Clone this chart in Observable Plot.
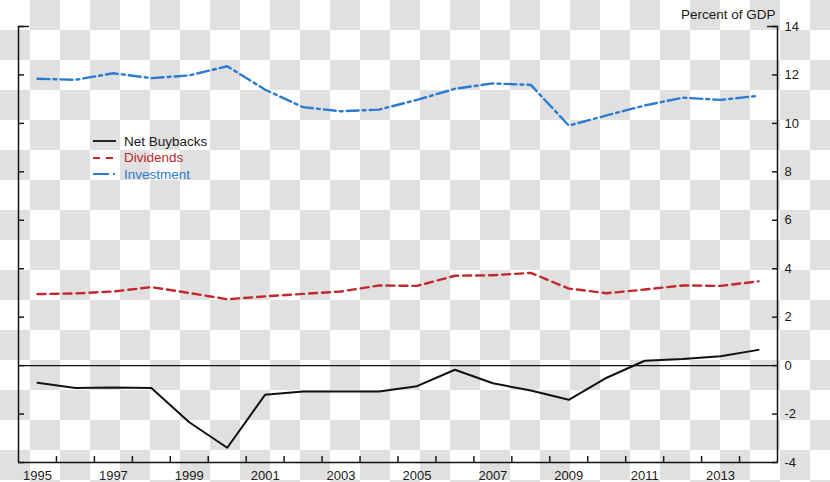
<!DOCTYPE html>
<html>
<head>
<meta charset="utf-8">
<script src="https://cdn.jsdelivr.net/npm/d3@7"></script>
<script src="https://cdn.jsdelivr.net/npm/@observablehq/plot@0.6"></script>
<style>
html, body { margin: 0; padding: 0; width: 830px; height: 482px; overflow: hidden; }
body {
  position: relative;
  font-family: "Liberation Sans", Arial, sans-serif;
  background: repeating-conic-gradient(#e0e0e0 0% 25%, #ffffff 0% 50%) 0 0 / 60px 60px;
}
#chart { position: absolute; left: 0; top: 0; }
#legend { position: absolute; left: 93px; top: 132.75px; font-size: 13.5px; }
.row { display: flex; align-items: center; height: 16.5px; white-space: nowrap; }
.row svg { width: 23px; height: 6px; margin-right: 8px; overflow: visible; }
</style>
</head>
<body>
<div id="chart"></div>
<div id="legend"></div>
<script>
// ---- data ----
const years = [1995, 1996, 1997, 1998, 1999, 2000, 2001, 2002, 2003, 2004,
               2005, 2006, 2007, 2008, 2009, 2010, 2011, 2012, 2013, 2014];
const netBuybacks = [-0.71, -0.92, -0.90, -0.92, -2.34, -3.39, -1.20, -1.07, -1.07, -1.07,
                     -0.85, -0.17, -0.73, -1.03, -1.41, -0.50, 0.20, 0.27, 0.39, 0.65];
const dividends = [2.95, 2.98, 3.06, 3.24, 3.00, 2.74, 2.86, 2.96, 3.06, 3.31,
                   3.29, 3.71, 3.73, 3.83, 3.18, 2.99, 3.14, 3.31, 3.29, 3.48];
const investment = [11.84, 11.80, 12.07, 11.87, 11.98, 12.36, 11.39, 10.67, 10.50, 10.57,
                    10.97, 11.43, 11.65, 11.59, 9.91, 10.33, 10.74, 11.06, 10.97, 11.14];
const seriesNames = ["Net Buybacks", "Dividends", "Investment"];
const yTicks = [-4, -2, 0, 2, 4, 6, 8, 10, 12, 14];
const xLabelYears = [1995, 1997, 1999, 2001, 2003, 2005, 2007, 2009, 2011, 2013];
const unitLabel = "Percent of GDP";

// ---- derived ----
const xDomain = [years[0] - 0.5, years[years.length - 1] + 0.5];
const yDomain = [yTicks[0], yTicks[yTicks.length - 1]];
const xTickMarks = years.slice(0, -1).map(y => y + 0.5);

const styles = {
  "Net Buybacks": {stroke: "#111111", strokeWidth: 2, dash: null, legendDash: null},
  "Dividends": {stroke: "#c1272d", strokeWidth: 2.4, dash: "8,5", legendDash: "7,6"},
  "Investment": {stroke: "#2b7bd1", strokeWidth: 2.4, dash: "12,4,3,4", legendDash: "16,4,2,4"}
};
const values = {"Net Buybacks": netBuybacks, "Dividends": dividends, "Investment": investment};

const blank = () => "";
const plain = d => String(d);

const chart = Plot.plot({
  width: 830,
  height: 482,
  marginLeft: 18,
  marginRight: 53,
  marginTop: 26,
  marginBottom: 20,
  style: {background: "transparent", fontFamily: "Liberation Sans, Arial, sans-serif", fontSize: "13px", color: "#1a1a1a", overflow: "visible"},
  x: {type: "linear", domain: xDomain},
  y: {type: "linear", domain: yDomain},
  marks: [
    Plot.ruleY([0], {stroke: "#111", strokeWidth: 1.3}),
    ...seriesNames.map(name => Plot.line(years, {
      x: years,
      y: values[name],
      stroke: styles[name].stroke,
      strokeWidth: styles[name].strokeWidth,
      strokeDasharray: styles[name].dash,
      curve: "linear"
    })),
    Plot.ruleX(xDomain, {stroke: "#111", strokeWidth: 1.5}),
    Plot.ruleY([yDomain[0]], {stroke: "#111", strokeWidth: 1.5}),
    Plot.axisY(yTicks, {anchor: "right", tickSize: -6, tickPadding: 13, tickFormat: plain, label: null, strokeWidth: 1.5}),
    Plot.axisY(yTicks, {anchor: "left", tickSize: -6, tickFormat: blank, label: null, strokeWidth: 1.5}),
    Plot.axisY([yDomain[1]], {anchor: "left", tickSize: -11, tickFormat: blank, label: null, strokeWidth: 1.5}),
    Plot.axisY([yDomain[1]], {anchor: "right", tickSize: -11, tickFormat: blank, label: null, strokeWidth: 1.5}),
    Plot.axisX(xTickMarks, {anchor: "bottom", tickSize: -6, tickFormat: blank, label: null, strokeWidth: 1.5}),
    Plot.axisX(xLabelYears, {anchor: "bottom", tickSize: 0, tickPadding: 8, tickFormat: plain, label: null}),
    Plot.text([unitLabel], {frameAnchor: "top-right", text: d => d, dx: -2, dy: -8, lineAnchor: "bottom", fontSize: 13.5, fill: "#1a1a1a"})
  ]
});
document.getElementById("chart").appendChild(chart);

// ---- legend ----
const legend = document.getElementById("legend");
const textColors = {"Net Buybacks": "#1a1a1a", "Dividends": "#c1272d", "Investment": "#2b7bd1"};
for (const name of seriesNames) {
  const s = styles[name];
  const row = document.createElement("div");
  row.className = "row";
  row.innerHTML = `<svg viewBox="0 0 23 6"><line x1="0" x2="23" y1="3" y2="3" stroke="${s.stroke}" stroke-width="1.8" ${s.legendDash ? `stroke-dasharray="${s.legendDash}"` : ""}/></svg><span style="color:${textColors[name]}">${name}</span>`;
  legend.appendChild(row);
}
</script>
</body>
</html>
